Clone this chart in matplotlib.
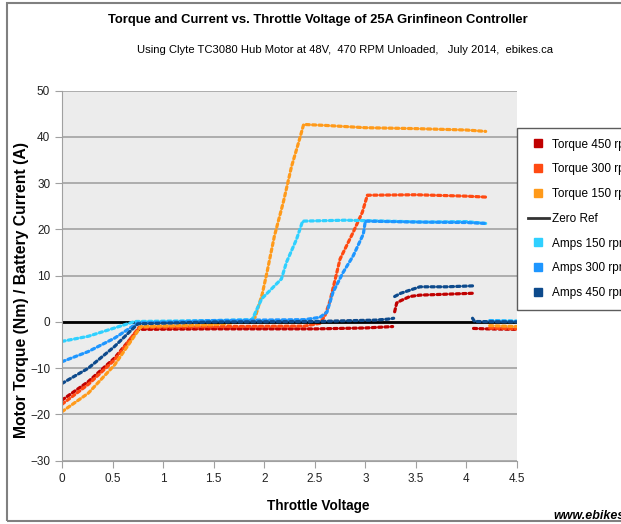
import numpy as np
import matplotlib
matplotlib.use("Agg")
import matplotlib.pyplot as plt
from matplotlib.lines import Line2D
from matplotlib.patches import Rectangle

plt.rcParams["font.family"] = ["Liberation Sans", "DejaVu Sans"]

nan = np.nan

# throttle voltage (V) / value pairs, nan = gap between groups of dots
t450_v = [0, 0.26, 0.52, 0.755, 1.5, 2.5, 3.0, 3.27, nan, 3.29, 3.31, 3.35, 3.44, 3.54, 3.8, 4.06, nan, 4.07, 4.2, 4.5]
t450 = [-16.9, -12.9, -7.8, -1.6, -1.5, -1.5, -1.3, -1.0, nan, 2.2, 4.1, 4.6, 5.5, 5.8, 6.0, 6.2, nan, -1.4, -1.5, -1.6]

t300_v = [0, 0.26, 0.52, 0.76, 1.5, 2.4, 2.55, 2.6, 2.65, 2.75, 2.88, 2.97, 3.02, 3.5, 4.0, 4.19, nan, 4.21, nan, 4.23, 4.5]
t300 = [-17.8, -13.5, -8.2, -1.2, -1.0, -0.9, -0.3, 1.3, 4.5, 13.6, 19.4, 23.7, 27.4, 27.5, 27.2, 27.0, nan, 14.4, nan, -1.3, -1.5]

t150_v = [0, 0.26, 0.52, 0.78, 1.5, 1.86, 1.91, 1.98, 2.03, 2.1, 2.19, 2.27, 2.34, 2.39, 2.6, 3.0, 3.5, 4.0, 4.19, nan, 4.21, nan, 4.23, 4.5]
t150 = [-19.4, -15.4, -9.3, -1.0, -0.6, 0.2, 1.0, 6.0, 11.0, 18.5, 26.0, 33.6, 38.8, 42.7, 42.5, 42.0, 41.8, 41.5, 41.2, nan, 6.2, nan, -0.8, -1.0]

a150_v = [0, 0.26, 0.52, 0.72, 1.5, 1.88, 1.975, 2.07, 2.17, 2.22, 2.32, 2.38, 2.8, 3.2, 3.6, 4.0, 4.19, nan, 4.21, nan, 4.23, 4.5]
a150 = [-4.2, -3.1, -1.3, 0.1, 0.3, 0.5, 5.0, 7.1, 9.3, 12.9, 17.9, 21.8, 22.0, 21.8, 21.6, 21.7, 21.3, nan, 2.8, nan, 0.3, 0.2]

a300_v = [0, 0.26, 0.52, 0.75, 1.5, 2.4, 2.55, 2.62, 2.68, 2.78, 2.88, 2.98, 3.0, 3.5, 4.0, 4.19, nan, 4.21, nan, 4.23, 4.5]
a300 = [-8.6, -6.4, -3.5, -0.2, 0.3, 0.5, 1.0, 2.1, 6.4, 10.7, 14.3, 19.0, 21.8, 21.6, 21.5, 21.3, nan, 10.5, nan, 0.2, 0.1]

a450_v = [0, 0.26, 0.52, 0.75, 1.5, 2.5, 3.1, 3.22, 3.28, nan, 3.29, 3.35, 3.54, 3.8, 4.06, nan, 4.06, 4.08, 4.5]
a450 = [-13.3, -10.0, -5.3, -0.4, 0.0, 0.1, 0.4, 0.6, 0.8, nan, 5.5, 6.2, 7.6, 7.6, 7.8, nan, 0.8, 0.1, 0.0]

x_ticks = [0, 0.5, 1, 1.5, 2, 2.5, 3, 3.5, 4, 4.5]
x_tick_labels = ["0", "0.5", "1", "1.5", "2", "2.5", "3", "3.5", "4", "4.5"]
y_ticks = [-30, -20, -10, 0, 10, 20, 30, 40, 50]

fig = plt.figure(figsize=(6.21, 5.24), dpi=100)
ax = fig.add_axes([62 / 621, 1 - 460.7 / 524, 455 / 621, 370 / 524])
ax.set_facecolor("#ececec")

dots = dict(linestyle=(0, (1, 1.0)), linewidth=2.3, dash_capstyle="round")
ax.plot(t450_v, t450, color="#c00000", **dots)
ax.plot(t300_v, t300, color="#ff4a12", **dots)
ax.plot(t150_v, t150, color="#ff9a1a", **dots)
ax.axhline(0, color="black", linewidth=2)
ax.plot(a150_v, a150, color="#2fd0ff", **dots)
ax.plot(a300_v, a300, color="#1e96ff", **dots)
ax.plot(a450_v, a450, color="#0d4a8c", **dots)

ax.set_xlim(0, 4.5)
ax.set_ylim(-30, 50)
ax.set_xticks(x_ticks)
ax.set_xticklabels(x_tick_labels)
ax.set_yticks(y_ticks)
ax.yaxis.grid(True, color="#a8a8a8", linewidth=1.3)
ax.set_axisbelow(True)
for s in ["top", "right"]:
    ax.spines[s].set_visible(False)
for s in ["left", "bottom"]:
    ax.spines[s].set_color("#a0a0a0")
ax.tick_params(colors="#a0a0a0", length=5, labelcolor="#222222", labelsize=8.5)

fig.text(318 / 621, 1 - 20 / 524, "Torque and Current vs. Throttle Voltage of 25A Grinfineon Controller",
         ha="center", va="center", fontsize=9.4, fontweight="bold")
fig.text(345 / 621, 1 - 50 / 524, "Using Clyte TC3080 Hub Motor at 48V,  470 RPM Unloaded,   July 2014,  ebikes.ca",
         ha="center", va="center", fontsize=8.1)
fig.text(318 / 621, 1 - 506 / 524, "Throttle Voltage", ha="center", va="center",
         fontsize=9.8, fontweight="bold")
fig.text(22 / 621, 1 - 290 / 524, "Motor Torque (Nm) / Battery Current (A)", ha="center", va="center",
         rotation=90, fontsize=11.3, fontweight="bold")
fig.text(553 / 621, 1 - 516 / 524, "www.ebikes.ca", ha="left", va="center",
         fontsize=9, fontweight="bold", style="italic")

fig.patches.append(Rectangle((7 / 621, 1 - 521 / 524), 1.0, 518 / 524, transform=fig.transFigure,
                             fill=False, edgecolor="#808080", linewidth=1.5))

handles = [
    Line2D([], [], color="#c00000", marker="s", linestyle="none", markersize=5.5),
    Line2D([], [], color="#ff4a12", marker="s", linestyle="none", markersize=5.5),
    Line2D([], [], color="#ff9a1a", marker="s", linestyle="none", markersize=5.5),
    Line2D([], [], color="#333333", linewidth=2),
    Line2D([], [], color="#2fd0ff", marker="s", linestyle="none", markersize=5.5),
    Line2D([], [], color="#1e96ff", marker="s", linestyle="none", markersize=5.5),
    Line2D([], [], color="#0d4a8c", marker="s", linestyle="none", markersize=5.5),
]
labels = ["Torque 450 rpm", "Torque 300 rpm", "Torque 150 rpm", "Zero Ref",
          "Amps 150 rpm", "Amps 300 rpm", "Amps 450 rpm"]
leg = fig.legend(handles, labels, loc="upper left", bbox_to_anchor=(517 / 621, 1 - 128 / 524),
                 borderaxespad=0, fontsize=8.5, frameon=True, fancybox=False, edgecolor="#333333",
                 labelspacing=1.08, handlelength=1.8, handletextpad=0.3, borderpad=0.9)
leg.get_frame().set_linewidth(1.0)

fig.savefig("out.png", dpi=100)
